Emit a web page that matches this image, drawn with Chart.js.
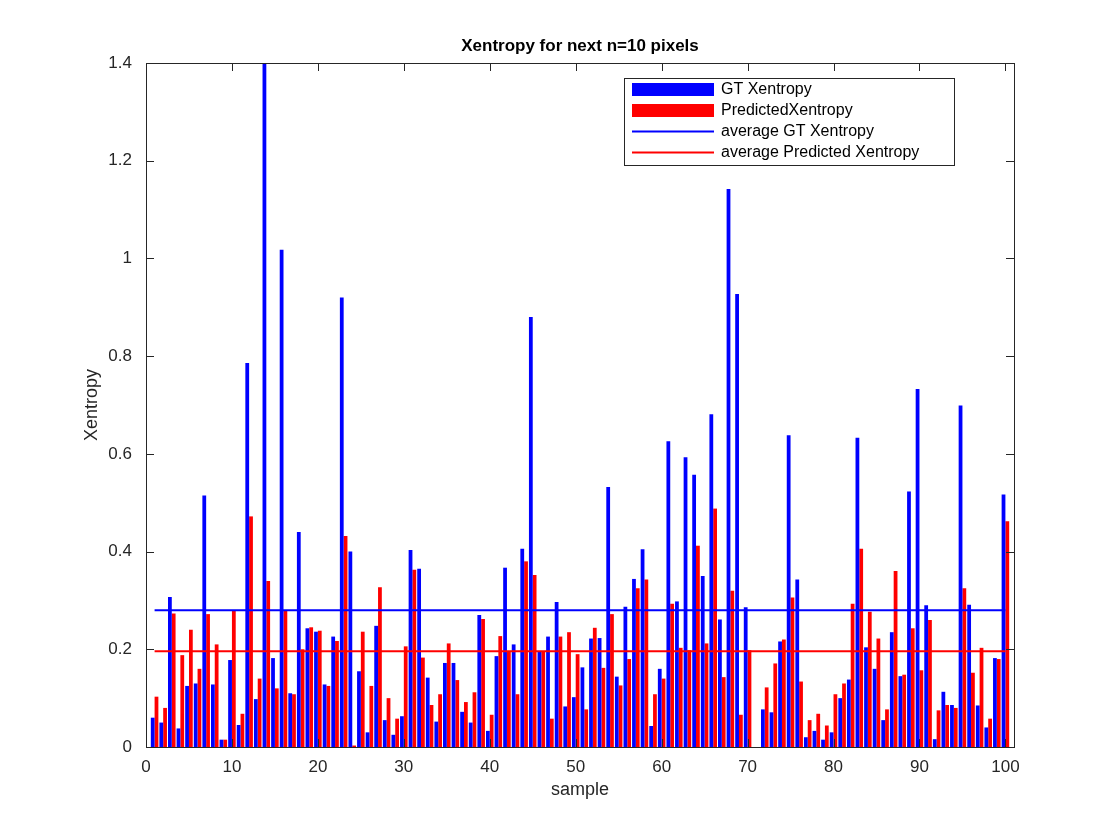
<!DOCTYPE html>
<html><head><meta charset="utf-8">
<script src="https://cdn.jsdelivr.net/npm/chart.js@4"></script>
<style>html,body{margin:0;padding:0;background:#fff}#w{width:1120px;height:840px}</style>
</head><body><div id="w"><canvas id="c"></canvas></div>
<script>
const samples = Array.from({length:100},(_,i)=>i+1);
const gtXentropy = [0.06,0.05,0.307,0.038,0.125,0.13,0.515,0.128,0.015,0.178,
0.045,0.786,0.098,1.4,0.182,1.018,0.11,0.44,0.243,0.236,
0.128,0.226,0.92,0.4,0.155,0.03,0.248,0.055,0.025,0.063,
0.403,0.365,0.142,0.052,0.172,0.172,0.072,0.05,0.27,0.033,
0.186,0.367,0.21,0.406,0.88,0.196,0.226,0.297,0.083,0.102,
0.163,0.222,0.223,0.532,0.144,0.287,0.344,0.405,0.043,0.16,
0.626,0.298,0.593,0.557,0.35,0.681,0.261,1.142,0.927,0.286,
0,0.077,0.071,0.216,0.638,0.343,0.02,0.033,0.015,0.03,
0.1,0.138,0.633,0.204,0.16,0.055,0.235,0.145,0.523,0.733,
0.29,0.016,0.113,0.086,0.699,0.291,0.085,0.04,0.182,0.517];
const predXentropy = [0.103,0.08,0.273,0.188,0.24,0.16,0.272,0.21,0.015,0.28,
0.068,0.472,0.14,0.34,0.12,0.28,0.108,0.2,0.245,0.238,
0.125,0.217,0.432,0.003,0.236,0.125,0.327,0.1,0.058,0.206,
0.363,0.183,0.086,0.108,0.212,0.137,0.092,0.112,0.262,0.066,
0.227,0.195,0.108,0.38,0.352,0.195,0.058,0.226,0.235,0.19,
0.077,0.244,0.162,0.272,0.126,0.18,0.325,0.343,0.108,0.14,
0.293,0.203,0.198,0.412,0.212,0.488,0.143,0.32,0.066,0.198,
0,0.122,0.171,0.22,0.306,0.134,0.055,0.068,0.044,0.108,
0.13,0.293,0.406,0.277,0.222,0.077,0.36,0.148,0.243,0.157,
0.26,0.075,0.086,0.08,0.325,0.152,0.203,0.058,0.18,0.462];
const avgGT = 0.28, avgPred = 0.196;
const xTicks = [0,10,20,30,40,50,60,70,80,90,100];
const yTicks = [0,0.2,0.4,0.6,0.8,1,1.2,1.4];
const FONT = '"Liberation Sans", Arial, sans-serif';

const frame = {
  id:'frame',
  afterDraw(ch){
    const {ctx, chartArea:a, scales:{x,y}} = ch;
    ctx.save();
    ctx.strokeStyle='#262626'; ctx.lineWidth=1;
    ctx.strokeRect(a.left+0.5,a.top+0.5,a.right-a.left,a.bottom-a.top);
    ctx.beginPath();
    xTicks.forEach(t=>{const px=Math.round(x.getPixelForValue(t))+0.5;
      ctx.moveTo(px,a.bottom);ctx.lineTo(px,a.bottom-8);ctx.moveTo(px,a.top);ctx.lineTo(px,a.top+8);});
    yTicks.forEach(t=>{const py=Math.round(y.getPixelForValue(t))+0.5;
      ctx.moveTo(a.left,py);ctx.lineTo(a.left+8,py);ctx.moveTo(a.right,py);ctx.lineTo(a.right-8,py);});
    ctx.stroke();
    ctx.fillStyle='#000';
    ctx.font='bold 17px '+FONT; ctx.textAlign='center'; ctx.textBaseline='middle';
    ctx.fillText('Xentropy for next n=10 pixels',(a.left+a.right)/2,46);
    ctx.font='18px '+FONT; ctx.fillStyle='#262626';
    ctx.fillText('sample',(a.left+a.right)/2,790);
    ctx.save(); ctx.translate(92,(a.top+a.bottom)/2); ctx.rotate(-Math.PI/2);
    ctx.fillText('Xentropy',0,0); ctx.restore();
    // legend
    const lx=624, ly=78, lw=330, lh=87;
    ctx.fillStyle='#fff'; ctx.fillRect(lx,ly,lw,lh);
    ctx.strokeStyle='#262626'; ctx.strokeRect(lx+0.5,ly+0.5,lw,lh);
    const items=[['GT Xentropy','#0000ff','box'],['PredictedXentropy','#ff0000','box'],
      ['average GT Xentropy','#0000ff','line'],['average Predicted Xentropy','#ff0000','line']];
    ctx.font='16px '+FONT; ctx.textAlign='left';
    items.forEach((it,i)=>{const cy=ly+11+i*21;
      if(it[2]==='box'){ctx.fillStyle=it[1];ctx.fillRect(632,cy-6,82,13);}
      else{ctx.strokeStyle=it[1];ctx.lineWidth=2;ctx.beginPath();ctx.moveTo(632,cy+0.5);ctx.lineTo(714,cy+0.5);ctx.stroke();}
      ctx.fillStyle='#000';ctx.fillText(it[0],721,cy+1);});
    ctx.restore();
  }
};

new Chart(document.getElementById('c'),{
  data:{datasets:[
    {type:'bar',label:'GT Xentropy',data:samples.map((s,i)=>({x:s,y:gtXentropy[i]})),backgroundColor:'#0000ff',barPercentage:1,categoryPercentage:0.88,order:2},
    {type:'bar',label:'PredictedXentropy',data:samples.map((s,i)=>({x:s,y:predXentropy[i]})),backgroundColor:'#ff0000',barPercentage:1,categoryPercentage:0.88,order:2},
    {type:'line',label:'average GT Xentropy',data:[{x:1,y:avgGT},{x:100,y:avgGT}],borderColor:'#0000ff',borderWidth:2,pointRadius:0,order:1},
    {type:'line',label:'average Predicted Xentropy',data:[{x:1,y:avgPred},{x:100,y:avgPred}],borderColor:'#ff0000',borderWidth:2,pointRadius:0,order:1}
  ]},
  options:{responsive:true,maintainAspectRatio:false,animation:false,
    layout:{padding:{top:63,right:106,left:0,bottom:0}},
    plugins:{legend:{display:false},tooltip:{enabled:false}},
    scales:{
      x:{type:'linear',min:0,max:101,offset:false,grid:{display:false},border:{display:false},
        afterBuildTicks(s){s.ticks=xTicks.map(v=>({value:v}));},
        afterFit(s){s.height=93;},
        ticks:{color:'#262626',font:{size:17,family:FONT},padding:2,maxRotation:0}},
      y:{min:0,max:1.4,grid:{display:false},border:{display:false},
        afterBuildTicks(s){s.ticks=yTicks.map(v=>({value:v}));},
        afterFit(s){s.width=146;},
        ticks:{color:'#262626',font:{size:17,family:FONT},padding:6,callback:v=>String(Math.round(v*10)/10)}}
    }},
  plugins:[frame]
});
</script></body></html>
